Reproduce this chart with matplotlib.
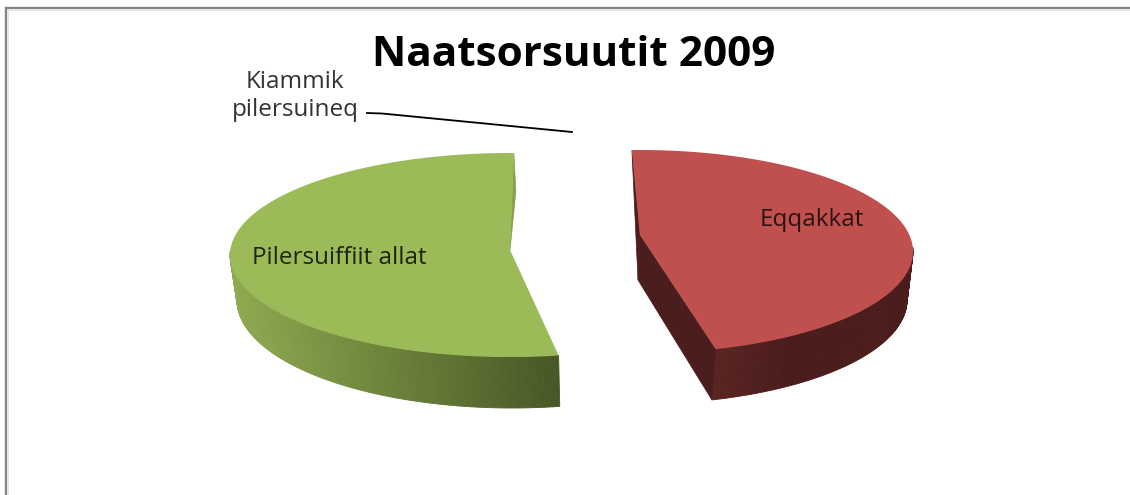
"""Exploded 3D-look pie chart: Naatsorsuutit 2009."""

import matplotlib

matplotlib.use("Agg")
import matplotlib.pyplot as plt
import numpy as np
from matplotlib.collections import PolyCollection
from matplotlib.colors import to_rgb
from matplotlib.patches import Polygon

TITLE = "Naatsorsuutit 2009"
categories = ["Eqqakkat", "Pilersuiffiit allat", "Kiammik pilersuineq"]
values = [46, 53, 1]

START_ANGLE = 91.7
# perspective nudge of each slice, degrees
twist = [0.0, -6.1, 0.0]

top_faces = [
    dict(center=(640, 251.5), radii=(273, 101.5), apex=(640, 235)),
    dict(center=(510, 255), radii=(280, 102), apex=(510, 250)),
]
bottom_faces = [
    dict(center=(637, 300), radii=(270, 104), apex=(638, 280)),
    dict(center=(512, 300), radii=(275, 108), apex=(512, 300)),
]
top_colors = ["#C0504D", "#9BBB59"]
wall_colors = [("#5A2523", "#4A1C1B"), ("#8FAB50", "#475725")]
side_colors = ["#4B1D1C", "#88A04C"]


def ellipse_points(face, angles):
    t = np.radians(angles)
    cx, cy = face["center"]
    rx, ry = face["radii"]
    return np.column_stack((cx + rx * np.cos(t), cy - ry * np.sin(t)))


def slice_spans():
    spans = []
    angle = START_ANGLE
    for value, nudge in zip(values, twist):
        sweep = value / sum(values) * 360
        spans.append((angle + nudge, angle + nudge - sweep))
        angle -= sweep
    return spans


def draw_walls(ax, index, span):
    # only the front of the rim shows, the back stays behind the top face
    angles = np.linspace(span[0], span[1], 240)
    angles = angles[np.sin(np.radians(angles)) < 0.05]
    top = ellipse_points(top_faces[index], angles)
    bottom = ellipse_points(bottom_faces[index], angles)
    start, end = (np.array(to_rgb(c)) for c in wall_colors[index])
    # red only lightens close to its front tip
    xmin, xmax = (714, 790) if index == 0 else (top[:, 0].min(), top[:, 0].max())
    quads = []
    colors = []
    for i in range(len(top) - 1):
        quads.append([top[i], top[i + 1], bottom[i + 1], bottom[i]])
        mix = np.clip((top[i, 0] - xmin) / (xmax - xmin), 0, 1)
        colors.append(start * (1 - mix) + end * mix)
    ax.add_collection(PolyCollection(quads, facecolors=colors, edgecolors=colors, linewidths=0.6))


def draw_slices(ax):
    spans = slice_spans()
    for index, span in enumerate(spans[:2]):
        top_face = top_faces[index]
        bottom_face = bottom_faces[index]
        draw_walls(ax, index, span)

        # cut faces that turn toward the viewer
        first_top = ellipse_points(top_face, [span[0]])[0]
        last_top = ellipse_points(top_face, [span[1]])[0]
        last_bottom = ellipse_points(bottom_face, [span[1]])[0]
        if index == 0:
            ax.add_patch(Polygon([first_top, top_face["apex"], bottom_face["apex"]],
                                 color=side_colors[index], lw=0.5))
            ax.add_patch(Polygon([top_face["apex"], last_top, last_bottom, bottom_face["apex"]],
                                 color=side_colors[index], lw=0.5))
        else:
            ax.add_patch(Polygon([last_top, last_bottom, top_face["apex"]], color=side_colors[index], lw=0.5))

        # flat top of the slice
        arc = ellipse_points(top_face, np.linspace(span[0], span[1], 240))
        ax.add_patch(Polygon(np.vstack((top_face["apex"], arc)), facecolor=top_colors[index], edgecolor="none"))


def main():
    plt.rcParams["font.family"] = ["Open Sans", "DejaVu Sans"]
    fig = plt.figure(figsize=(11.3, 4.95), dpi=100)
    ax = fig.add_axes([0, 0, 1, 1])
    ax.set_xlim(0, 1130)
    ax.set_ylim(495, 0)
    ax.axis("off")

    # chart frame, cropped on the right and at the bottom
    ax.plot([6.3, 6.3, 1130], [495, 8, 8], color="#848484", lw=1.7, solid_joinstyle="miter")
    ax.plot([7.9, 7.9, 1130], [495, 9.6, 9.6], color="#E4E4E4", lw=0.7)

    draw_slices(ax)

    ax.text(574, 55, TITLE, fontsize=30.4, fontweight="bold", ha="center", va="center", color="black")
    ax.text(812, 220, categories[0], fontsize=17.5, ha="center", va="center", color="#2A1413")
    ax.text(339, 258, categories[1], fontsize=17.5, ha="center", va="center", color="#1E2410")
    ax.text(295, 96, "Kiammik\npilersuineq", fontsize=17.5, ha="center", va="center", color="#333333",
            linespacing=1.2)
    ax.plot([367, 382, 572], [113, 113.5, 132], color="black", lw=1.3)

    fig.savefig("out.png", dpi=100)


if __name__ == "__main__":
    main()
